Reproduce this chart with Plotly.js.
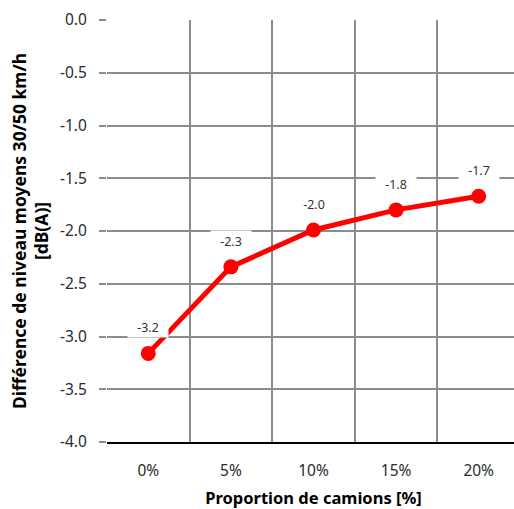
<!DOCTYPE html>
<html><head><meta charset="utf-8">
<script src="https://cdn.plot.ly/plotly-3.0.1.min.js"></script>
<style>html,body{margin:0;padding:0;overflow:hidden;background:#fff}</style>
</head><body><div id="chart"></div>
<script>
const categories = ["0%", "5%", "10%", "15%", "20%"];
const values = [-3.16, -2.34, -1.99, -1.80, -1.67];
const labels = ["-3.2", "-2.3", "-2.0", "-1.8", "-1.7"];
const yTickVals = [0, -0.5, -1, -1.5, -2, -2.5, -3, -3.5, -4];
const yTickText = ["0.0", "-0.5", "-1.0", "-1.5", "-2.0", "-2.5", "-3.0", "-3.5", "-4.0"];

const FONT = "Noto Sans, Open Sans, sans-serif";
const grid = "#8c8c8c";

const trace = {
  x: categories, y: values, type: "scatter", mode: "lines+markers",
  line: {color: "#ff0000", width: 5},
  marker: {color: "#ff0000", size: 15},
  hoverinfo: "skip", cliponaxis: false
};

const annotations = categories.map((c, i) => ({
  x: c, y: values[i], xref: "x", yref: "y", text: labels[i],
  showarrow: false, yshift: 26, bgcolor: "#ffffff", width: 38, height: 18,
  font: {family: FONT, size: 12.5, color: "#333"}
}));

const layout = {
  width: 520, height: 509,
  margin: {l: 107, r: 0, t: 20, b: 67},
  paper_bgcolor: "#fff", plot_bgcolor: "#fff",
  showlegend: false,
  font: {family: FONT, color: "#222"},
  xaxis: {
    type: "category", categoryarray: categories, range: [-0.5, 4.5],
    tickson: "boundaries", showgrid: true, gridcolor: grid, gridwidth: 2,
    ticks: "", ticklabelstandoff: 13,
    showline: true, linecolor: "#000", linewidth: 2,
    tickfont: {family: FONT, size: 15.5, color: "#2a2a2a"},
    title: {text: "Proportion de camions [%]", font: {family: FONT, size: 16.5, color: "#000", weight: "bold"}, standoff: 19},
    zeroline: false, fixedrange: true
  },
  yaxis: {
    range: [-4, 0], tickvals: yTickVals, ticktext: yTickText,
    showgrid: true, gridcolor: grid, gridwidth: 2,
    ticks: "outside", ticklen: 7, tickcolor: grid, tickwidth: 2,
    ticklabelstandoff: 9,
    tickfont: {family: FONT, size: 15.5, color: "#2a2a2a"},
    showline: false, zeroline: false,
    title: {text: "Différence de niveau moyens 30/50 km/h<br>[dB(A)]", font: {family: FONT, size: 17.5, color: "#000", weight: "bold"}, standoff: 6},
    fixedrange: true
  },
  annotations: annotations
};

Plotly.newPlot("chart", [trace], layout, {displayModeBar: false, staticPlot: true});
</script></body></html>
